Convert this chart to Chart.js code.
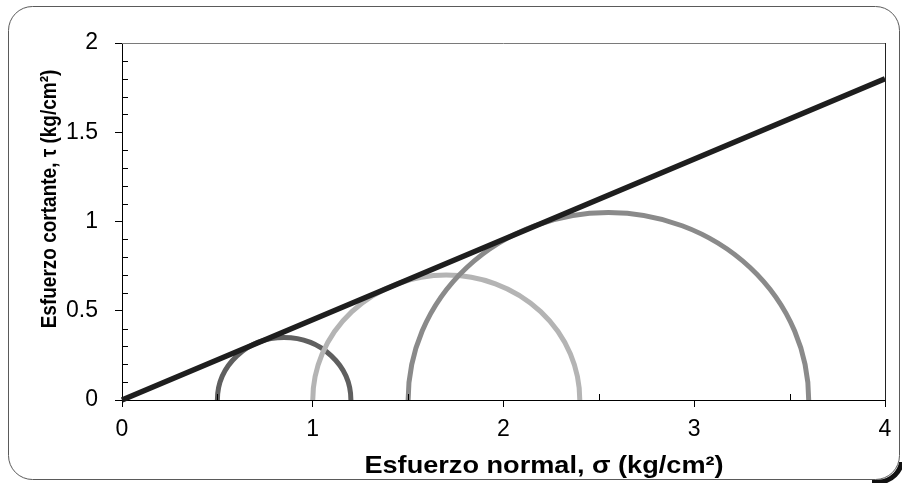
<!DOCTYPE html>
<html>
<head>
<meta charset="utf-8">
<script src="https://cdn.jsdelivr.net/npm/chart.js@4/dist/chart.umd.min.js"></script>
<style>
  html,body{margin:0;padding:0;background:#fff;overflow:hidden}
  #wrap{position:relative;width:902px;height:483px}
</style>
</head>
<body>
<div id="wrap"><canvas id="c"></canvas></div>
<script>
// failure envelope (line through origin) and Mohr circles
const lineSigma = [0, 4];
const lineTau = [0, 1.8];
const circleCenters = [0.85, 1.7, 2.55];
const circleRadii = [0.35, 0.7, 1.05];
const circleColors = ["#5f5f5f", "#b4b4b4", "#8a8a8a"];
const xTitle = "Esfuerzo normal, \u03c3 (kg/cm\u00b2)";
const yTitle = "Esfuerzo cortante, \u03c4 (kg/cm\u00b2)";
const FONT = "'Liberation Sans', Arial, sans-serif";

const extras = {
  id: "extras",
  beforeDraw(chart){
    const ctx = chart.ctx;
    ctx.save();
    // little shadow at the lower right corner of the frame
    ctx.save();
    ctx.beginPath(); ctx.rect(872, 462, 30, 21); ctx.clip();
    ctx.strokeStyle = "#111"; ctx.lineWidth = 5;
    ctx.beginPath(); ctx.roundRect(11, 9, 891, 473, 24); ctx.stroke();
    ctx.restore();
    ctx.fillStyle = "#fff"; ctx.strokeStyle = "#5a5a5a"; ctx.lineWidth = 1;
    ctx.beginPath(); ctx.roundRect(8.5, 6.5, 891, 473, 24); ctx.fill(); ctx.stroke();
    ctx.restore();
  },
  beforeDatasetsDraw(chart){
    const {ctx, scales:{x, y}} = chart;
    ctx.save();
    ctx.lineWidth = 5; ctx.lineCap = "butt";
    circleCenters.forEach((c, i)=>{
      const cx = x.getPixelForValue(c), cy = y.getPixelForValue(0);
      const rx = x.getPixelForValue(c + circleRadii[i]) - cx;
      const ry = cy - y.getPixelForValue(circleRadii[i]);
      ctx.strokeStyle = circleColors[i];
      ctx.beginPath(); ctx.ellipse(cx, cy, rx, ry, 0, Math.PI, 2*Math.PI); ctx.stroke();
    });
    ctx.restore();
  },
  afterDraw(chart){
    const {ctx, chartArea:a, scales:{x, y}} = chart;
    ctx.save();
    // top + right frame of the plot area
    ctx.lineWidth = 1;
    ctx.strokeStyle = "#7a7a7a";
    ctx.beginPath(); ctx.moveTo(a.left, a.top + 0.5); ctx.lineTo(a.right, a.top + 0.5); ctx.stroke();
    ctx.strokeStyle = "#222";
    ctx.beginPath(); ctx.moveTo(Math.round(a.right) + 0.5, a.top); ctx.lineTo(Math.round(a.right) + 0.5, a.bottom); ctx.stroke();
    // minor ticks, pointing inward
    ctx.strokeStyle = "#000";
    ctx.beginPath();
    for (let v = 0.1; v < y.max - 0.05; v += 0.1) {
      if (Math.abs(v / 0.5 - Math.round(v / 0.5)) < 0.01) continue;
      const py = Math.round(y.getPixelForValue(v)) + 0.5;
      ctx.moveTo(a.left, py); ctx.lineTo(a.left + 6, py);
    }
    for (let v = 0.5; v < x.max; v += 1) {
      const px = Math.round(x.getPixelForValue(v)) + 0.5;
      ctx.moveTo(px, a.bottom); ctx.lineTo(px, a.bottom - 6);
    }
    ctx.stroke();
    // axis titles
    ctx.fillStyle = "#000";
    ctx.font = "bold 24px " + FONT;
    ctx.textAlign = "center"; ctx.textBaseline = "alphabetic";
    ctx.save(); ctx.translate(544, 473); ctx.scale(1.13, 1); ctx.fillText(xTitle, 0, 0); ctx.restore();
    ctx.font = "bold 19px " + FONT;
    ctx.save(); ctx.translate(56, 199); ctx.rotate(-Math.PI/2); ctx.scale(1, 1.18); ctx.fillText(yTitle, 0, 0); ctx.restore();
    ctx.restore();
  }
};

new Chart(document.getElementById("c"), {
  type: "scatter",
  data: {
    datasets: [{
      data: lineSigma.map((s, i)=>({x: s, y: lineTau[i]})),
      showLine: true, borderColor: "#1e1e1e", borderWidth: 5.5,
      pointRadius: 0, borderCapStyle: "butt", clip: false
    }]
  },
  options: {
    responsive: true, maintainAspectRatio: false, animation: false,
    layout: {padding: {left: 0, top: 43, right: 17, bottom: 0}},
    plugins: {legend: {display: false}, tooltip: {enabled: false}},
    scales: {
      x: {
        type: "linear", min: 0, max: 4,
        ticks: {stepSize: 1, color: "#000", font: {family: FONT, size: 23}, padding: 9, maxRotation: 0,
          callback: v => String(v)},
        grid: {drawOnChartArea: false, drawTicks: true, tickLength: 7, color: "#000"},
        border: {display: true, color: "#000"},
        afterFit(s){ s.height = 83; }
      },
      y: {
        type: "linear", min: 0, max: 2,
        ticks: {stepSize: 0.5, color: "#000", font: {family: FONT, size: 23}, padding: 17,
          callback: v => String(v)},
        grid: {drawOnChartArea: false, drawTicks: true, tickLength: 7, color: "#000"},
        border: {display: true, color: "#000"},
        afterFit(s){ s.width = 122; }
      }
    }
  },
  plugins: [extras]
});
</script>
</body>
</html>
